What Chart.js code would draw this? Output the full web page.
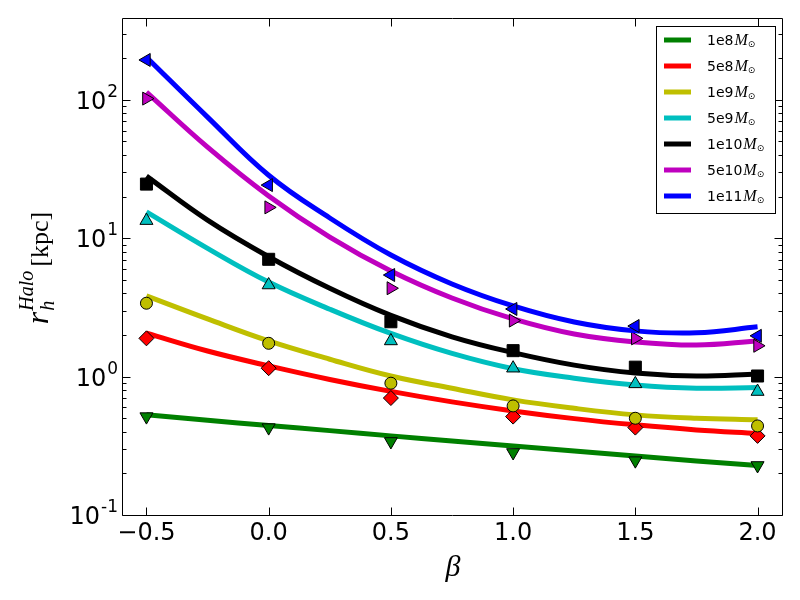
<!DOCTYPE html>
<html lang="en">
<head>
<meta charset="UTF-8">
<title>Halo radius vs beta</title>
<script src="https://cdn.jsdelivr.net/npm/chart.js@4.4.0/dist/chart.umd.min.js"></script>
<style>
    html, body { margin: 0; padding: 0; background: #fff; }
    #wrap { width: 800px; height: 600px; }
</style>
</head>
<body>
<div id="wrap"><canvas id="myChart" width="800" height="600"></canvas></div>
<script>
// beta values of the runs, and the beta grid of the fitted curves
var betas = [-0.5, 0.0, 0.5, 1.0, 1.5, 2.0];
var fitBetas = [-0.5, -0.25, 0.0, 0.25, 0.5, 0.75, 1.0, 1.25, 1.5, 1.75, 2.0];
var xTickVals = [-0.5, 0.0, 0.5, 1.0, 1.5, 2.0];
var yMajorVals = [0.1, 1, 10, 100];
var massLabels = ['1e8', '5e8', '1e9', '5e9', '1e10', '5e10', '1e11'];

// r_h^Halo in kpc read at each beta (markers)
var pts1e8  = [0.514, 0.428, 0.34, 0.283, 0.247, 0.228];
var pts5e8  = [1.89, 1.15, 0.70, 0.514, 0.428, 0.373];
var pts1e9  = [3.39, 1.74, 0.896, 0.614, 0.50, 0.44];
var pts5e9  = [13.4, 4.59, 1.81, 1.15, 0.886, 0.78];
var pts1e10 = [24.6, 7.04, 2.49, 1.54, 1.17, 1.01];
var pts5e10 = [102, 16.7, 4.35, 2.54, 1.89, 1.67];
var pts1e11 = [194, 24.2, 5.42, 3.08, 2.32, 1.97];

// fitted curves read on fitBetas
var fit1e8  = [0.53, 0.484, 0.443, 0.407, 0.373, 0.343, 0.315, 0.29, 0.267, 0.246, 0.228];
var fit5e8  = [2.06, 1.53, 1.195, 0.954, 0.782, 0.657, 0.565, 0.497, 0.448, 0.412, 0.389];
var fit1e9  = [3.83, 2.61, 1.81, 1.335, 1.01, 0.824, 0.679, 0.59, 0.529, 0.50, 0.487];
var fit5e9  = [15.5, 8.45, 4.82, 3.07, 2.05, 1.47, 1.14, 0.974, 0.87, 0.824, 0.833];
var fit1e10 = [28.1, 13.5, 7.35, 4.35, 2.77, 1.94, 1.49, 1.21, 1.06, 1.01, 1.046];
var fit5e10 = [113.7, 45.5, 20.2, 10.2, 5.80, 3.70, 2.61, 2.03, 1.78, 1.69, 1.81];
var fit1e11 = [203, 75.0, 28.5, 14.0, 7.56, 4.67, 3.24, 2.48, 2.14, 2.07, 2.29];

var allPts = [pts1e8, pts5e8, pts1e9, pts5e9, pts1e10, pts5e10, pts1e11];
var allFits = [fit1e8, fit5e8, fit1e9, fit5e9, fit1e10, fit5e10, fit1e11];
var colors = ['#008000', '#ff0000', '#bfbf00', '#00bfbf', '#000000', '#bf00bf', '#0000ff'];
var mStyle = ['triangle', 'rectRot', 'circle', 'triangle', 'rect', 'triangle', 'triangle'];
var mRot = [180, 0, 0, 0, 0, 90, 270];
var mRad = [7.5, 7.5, 6, 7.5, 8.5, 7.5, 7.5];

var datasets = [];
for (var i = 0; i < massLabels.length; i++) {
    (function (i) {
        datasets.push({
            label: massLabels[i],
            data: fitBetas.map(function (b, j) { return {x: b, y: allFits[i][j]}; }),
            borderColor: colors[i],
            borderWidth: 5,
            pointRadius: 0,
            tension: 0.4,
            fill: false,
            order: 100 - 2 * i
        });
        datasets.push({
            label: massLabels[i] + ' data',
            data: betas.map(function (b, j) { return {x: b, y: allPts[i][j]}; }),
            showLine: false,
            pointStyle: mStyle[i],
            rotation: mRot[i],
            pointRadius: mRad[i],
            pointBackgroundColor: colors[i],
            pointBorderColor: '#000',
            pointBorderWidth: 1,
            order: 99 - 2 * i
        });
    })(i);
}

// frame, inward ticks, y labels, axis titles and legend
var decor = {
    id: 'decor',
    afterDatasetsDraw: function (chart) {
        var ctx = chart.ctx, a = chart.chartArea;
        var xs = chart.scales.x, ys = chart.scales.y;
        var L = Math.floor(a.left) + 0.5, R = Math.floor(a.right) + 0.5;
        var T = Math.floor(a.top) + 0.5, B = Math.floor(a.bottom) + 0.5;
        ctx.save();
        ctx.strokeStyle = '#000';
        ctx.lineWidth = 1;
        ctx.beginPath();
        ctx.rect(L, T, R - L, B - T);
        xTickVals.forEach(function (v) {
            var p = Math.round(xs.getPixelForValue(v)) + 0.5;
            ctx.moveTo(p, B); ctx.lineTo(p, B - 8);
            ctx.moveTo(p, T); ctx.lineTo(p, T + 8);
        });
        yMajorVals.forEach(function (m) {
            for (var k = 1; k < 10; k++) {
                var v = m * k;
                if (v > ys.max) break;
                var p = Math.round(ys.getPixelForValue(v)) + 0.5;
                var len = k == 1 ? 8 : 4;
                ctx.moveTo(L, p); ctx.lineTo(L + len, p);
                ctx.moveTo(R, p); ctx.lineTo(R - len, p);
            }
        });
        ctx.stroke();

        // y tick labels 10^n
        ctx.fillStyle = '#000';
        ctx.textAlign = 'right';
        ctx.textBaseline = 'alphabetic';
        yMajorVals.forEach(function (m) {
            var p = ys.getPixelForValue(m);
            var e = String(Math.round(Math.log10(m)));
            ctx.font = '17px "DejaVu Sans"';
            var ew = ctx.measureText(e).width;
            ctx.fillText(e, 118, p - 3);
            ctx.font = '24px "DejaVu Sans"';
            ctx.fillText('10', 118 - ew - 1, p + 9);
        });

        // x title
        ctx.textAlign = 'center';
        ctx.font = 'italic 30px "Liberation Serif"';
        ctx.fillText('\u03b2', 453, 576);

        // y title, rotated
        ctx.textAlign = 'left';
        ctx.font = 'italic 32px "Liberation Serif"';
        var wr = ctx.measureText('r').width;
        ctx.font = 'italic 20px "Liberation Serif"';
        var wh = ctx.measureText('Halo').width;
        ctx.font = '26px "Liberation Serif"';
        var wk = ctx.measureText('[kpc]').width;
        var total = wr + 1 + wh + 4 + wk;
        ctx.save();
        ctx.translate(48, 268 + total / 2);
        ctx.rotate(-Math.PI / 2);
        ctx.font = 'italic 32px "Liberation Serif"';
        ctx.fillText('r', 0, 0);
        ctx.font = 'italic 20px "Liberation Serif"';
        ctx.fillText('h', wr + 1, 6);
        ctx.fillText('Halo', wr + 1, -15);
        ctx.font = '26px "Liberation Serif"';
        ctx.fillText('[kpc]', wr + 1 + wh + 4, 0);
        ctx.restore();

        // legend
        ctx.fillStyle = '#fff';
        ctx.fillRect(656, 26, 119, 187);
        ctx.strokeRect(656.5, 26.5, 119, 187);
        massLabels.forEach(function (lab, i) {
            var cy = 40 + 26 * i;
            ctx.strokeStyle = colors[i];
            ctx.lineWidth = 5;
            ctx.beginPath();
            ctx.moveTo(664, cy); ctx.lineTo(691, cy);
            ctx.stroke();
            ctx.fillStyle = '#000';
            ctx.textAlign = 'left';
            ctx.font = '14px "DejaVu Sans"';
            ctx.fillText(lab, 707, cy + 5);
            var w = ctx.measureText(lab).width;
            ctx.font = 'italic 16px "Liberation Serif"';
            ctx.fillText('M', 707 + w + 1, cy + 5);
            var wm = ctx.measureText('M').width;
            ctx.font = '9px "DejaVu Sans"';
            ctx.fillText('\u2299', 707 + w + 1 + wm, cy + 7);
        });
        ctx.restore();
    }
};

var ctx = document.getElementById('myChart').getContext('2d');
var myChart = new Chart(ctx, {
    type: 'line',
    data: { datasets: datasets },
    options: {
        responsive: false,
        animation: false,
        devicePixelRatio: 1,
        layout: { padding: { top: 18, right: 18, left: 0, bottom: 0 } },
        plugins: { legend: { display: false }, tooltip: { enabled: false } },
        scales: {
            x: {
                type: 'linear',
                min: -0.6,
                max: 2.1,
                afterBuildTicks: function (s) { s.ticks = xTickVals.map(function (v) { return {value: v}; }); },
                afterFit: function (s) { s.height = 85; },
                grid: { display: false, drawTicks: false },
                border: { display: false },
                ticks: {
                    color: '#000',
                    padding: 4,
                    maxRotation: 0,
                    autoSkip: false,
                    font: { family: 'DejaVu Sans', size: 24 },
                    callback: function (v) { return (v < 0 ? '\u2212' : '') + Math.abs(v).toFixed(1); }
                }
            },
            y: {
                type: 'logarithmic',
                min: 0.1,
                max: 390,
                afterFit: function (s) { s.width = 122; },
                grid: { display: false, drawTicks: false },
                border: { display: false },
                ticks: { display: false }
            }
        }
    },
    plugins: [decor]
});
</script>
</body>
</html>
